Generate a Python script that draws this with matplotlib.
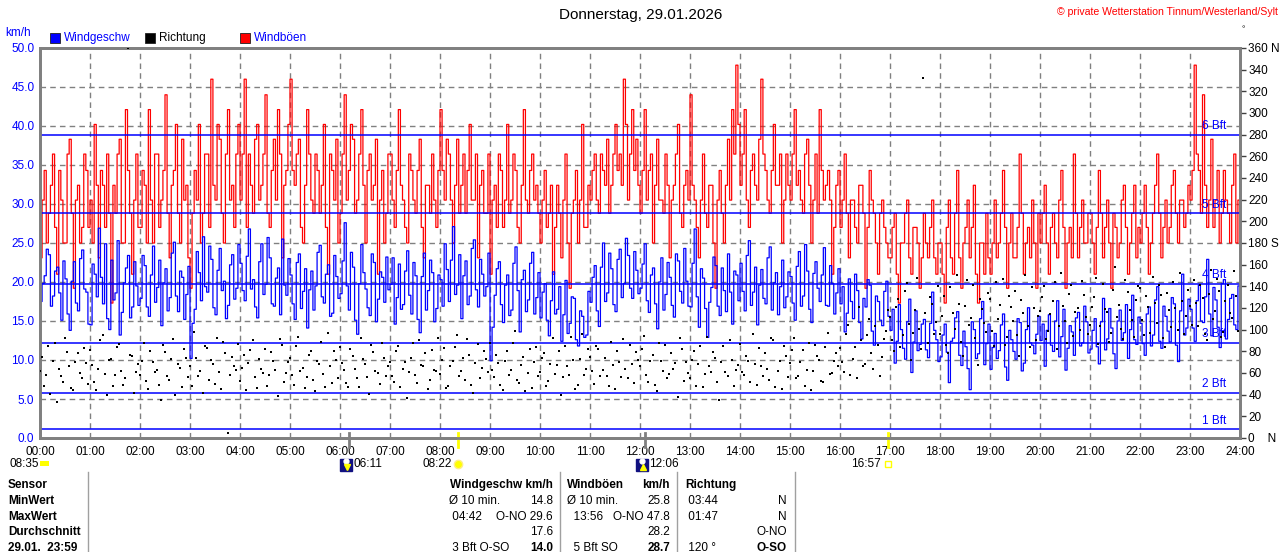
import matplotlib
matplotlib.use("Agg")

import numpy as np
import matplotlib.pyplot as plt
from matplotlib.patches import Rectangle

plt.rcParams['font.family'] = ['Liberation Sans', 'DejaVu Sans']

#--------------------------------
# DATA (readings every 5 min at :00 and at :02.5)
#--------------------------------
title = "Donnerstag, 29.01.2026"
credit = "© private Wetterstation Tinnum/Westerland/Sylt"
hour_labels = ["%02d:00" % h for h in range(25)]

speed_a = [  # km/h, 12 per hour
    17.5, 20.8, 23.5, 18.2, 21.9, 15.1, 20.4, 13.8, 22.6, 16.3, 24.1, 18.7,
    14.5, 21.0, 26.9, 17.2, 15.3, 22.8, 18.6, 13.2, 19.9, 23.4, 16.8, 19.5,
    17.9, 22.1, 15.6, 24.6, 19.3, 14.4, 21.7, 18.0, 25.1, 16.2, 20.6, 18.4,
    10.2, 16.5, 21.2, 25.8, 18.7, 22.9, 15.8, 24.3, 20.1, 17.0, 23.5, 19.2,
    22.4, 17.6, 26.8, 20.3, 15.4, 24.9, 19.7, 23.1, 16.9, 21.8, 25.5, 18.3,
    20.9, 15.2, 23.6, 18.8, 14.1, 21.4, 19.5, 24.7, 17.3, 22.2, 16.0, 20.7,
    18.5, 27.6, 16.4, 21.9, 13.3, 24.8, 19.1, 15.7, 22.5, 17.8, 20.6, 23.2,
    19.7, 14.6, 22.3, 17.1, 24.0, 15.9, 20.8, 13.5, 23.7, 18.9, 21.2, 16.6,
    20.3, 24.9, 17.5, 27.1, 19.6, 15.3, 22.7, 18.2, 25.4, 16.8, 21.0, 19.4,
    9.9, 18.3, 22.6, 14.8, 20.9, 16.4, 24.5, 13.6, 21.5, 17.7, 23.8, 18.0,
    15.4, 19.8, 13.1, 21.3, 16.5, 12.4, 20.2, 14.7, 17.9, 11.8, 15.6, 13.2,
    17.4, 22.1, 14.3, 25.0, 18.6, 21.7, 16.2, 24.2, 19.8, 23.4, 17.9, 21.5,
    19.2, 24.9, 16.1, 21.8, 14.0, 23.1, 18.4, 20.6, 15.5, 22.7, 17.3, 20.1,
    16.8, 26.8, 14.2, 20.5, 12.9, 19.3, 22.1, 15.7, 18.9, 23.6, 14.6, 20.9,
    22.4, 16.3, 25.3, 18.7, 14.5, 21.6, 17.2, 24.5, 19.9, 15.8, 22.8, 18.1,
    20.7, 15.1, 23.9, 18.2, 21.4, 14.8, 22.6, 17.5, 24.4, 16.9, 19.8, 18.6,
    17.2, 13.6, 20.4, 15.3, 18.9, 12.7, 16.8, 19.6, 11.9, 17.5, 14.4, 20.1,
    13.8, 9.6, 17.1, 11.5, 14.9, 8.4, 16.3, 12.0, 15.2, 10.3, 18.7, 12.6,
    10.4, 14.6, 7.1, 12.8, 16.2, 9.3, 11.7, 6.2, 13.9, 10.8, 17.5, 12.1,
    8.8, 13.4, 11.2, 15.9, 7.4, 12.6, 10.1, 14.8, 9.6, 16.7, 11.9, 13.3,
    12.5, 9.2, 15.8, 11.1, 17.6, 13.0, 8.7, 14.4, 10.6, 16.1, 12.2, 14.9,
    11.4, 15.3, 9.5, 17.9, 12.7, 14.1, 8.9, 16.4, 13.5, 10.2, 18.3, 12.0,
    14.7, 10.6, 16.8, 13.2, 19.4, 11.5, 15.6, 12.3, 17.2, 9.8, 21.0, 14.1,
    16.5, 12.4, 19.6, 14.8, 22.9, 13.1, 17.7, 11.6, 20.3, 15.2, 18.4, 13.9,
]
speed_b = [
    19.8, 24.2, 16.9, 21.4, 18.6, 22.7, 15.9, 20.1, 17.3, 23.0, 19.1, 14.6,
    22.3, 18.1, 20.6, 24.9, 13.9, 17.7, 25.3, 16.1, 21.8, 15.4, 22.6, 17.0,
    23.4, 16.8, 20.9, 17.4, 22.8, 19.9, 16.3, 23.7, 18.2, 21.4, 15.2, 22.0,
    14.7, 23.9, 17.6, 19.4, 24.6, 16.7, 21.5, 18.9, 15.3, 22.2, 17.8, 24.8,
    18.9, 23.3, 19.1, 16.8, 22.6, 18.4, 25.7, 17.2, 20.5, 15.8, 19.6, 23.0,
    17.2, 22.5, 16.6, 21.7, 19.0, 16.4, 23.8, 18.1, 21.0, 15.6, 23.4, 17.9,
    22.7, 19.5, 23.8, 15.1, 19.8, 21.2, 16.7, 23.6, 14.9, 21.3, 17.4, 19.0,
    23.1, 18.0, 16.5, 21.4, 18.3, 22.5, 15.2, 20.7, 16.4, 22.8, 14.9, 20.9,
    16.9, 21.6, 22.8, 18.4, 23.5, 20.8, 17.1, 24.3, 19.0, 22.9, 18.2, 23.7,
    14.2, 21.7, 17.1, 19.6, 15.7, 22.4, 18.9, 20.3, 16.2, 22.4, 15.9, 21.2,
    18.7, 15.1, 17.6, 15.9, 19.4, 15.8, 13.4, 18.1, 12.6, 16.3, 12.9, 18.8,
    20.6, 16.3, 21.9, 17.5, 23.7, 17.1, 22.9, 18.0, 25.6, 19.2, 23.9, 18.5,
    22.3, 17.6, 20.9, 17.2, 20.0, 16.4, 22.5, 17.0, 23.6, 18.8, 24.3, 16.9,
    22.4, 18.1, 21.7, 16.6, 17.4, 23.2, 16.9, 21.8, 16.2, 18.7, 21.4, 17.6,
    18.8, 23.4, 17.0, 21.9, 19.6, 17.9, 23.1, 16.4, 21.2, 19.4, 16.7, 21.3,
    17.3, 22.0, 16.9, 24.8, 16.5, 21.1, 19.2, 20.9, 17.0, 22.1, 15.9, 21.7,
    19.4, 16.0, 17.5, 21.0, 14.8, 17.9, 20.3, 13.7, 18.2, 15.1, 18.8, 15.6,
    16.5, 12.4, 13.9, 10.1, 17.8, 12.3, 11.2, 14.6, 11.3, 14.7, 13.8, 9.8,
    13.2, 11.0, 12.4, 15.4, 10.6, 13.7, 8.9, 14.9, 10.2, 15.3, 9.4, 14.6,
    11.6, 10.2, 14.5, 9.1, 13.8, 11.1, 15.3, 8.6, 13.9, 12.2, 10.8, 15.6,
    14.6, 13.8, 11.9, 15.0, 10.4, 16.5, 11.5, 13.6, 15.4, 11.8, 16.9, 10.9,
    13.8, 11.7, 14.9, 11.3, 16.6, 10.8, 15.0, 12.5, 17.1, 13.9, 12.6, 15.5,
    12.1, 15.9, 11.8, 17.7, 12.4, 16.9, 13.7, 18.0, 11.9, 16.3, 13.2, 17.8,
    14.1, 17.6, 15.0, 18.1, 15.9, 19.3, 14.2, 19.8, 12.7, 17.9, 14.5, 19.5,
]

gusts_a = [  # km/h
    23.1, 34.3, 28.8, 36.4, 21.0, 30.5, 25.0, 38.3, 19.2, 32.4, 27.0, 34.3,
    30.5, 40.2, 23.1, 32.4, 36.4, 17.3, 28.8, 38.3, 25.0, 34.3, 21.0, 36.4,
    27.0, 32.4, 42.1, 25.0, 36.4, 30.5, 44.0, 23.1, 34.3, 28.8, 38.3, 32.4,
    19.2, 34.3, 40.2, 28.8, 36.4, 46.0, 30.5, 38.3, 25.0, 42.1, 32.4, 36.4,
    30.5, 46.0, 36.4, 28.8, 40.2, 32.4, 44.0, 27.0, 38.3, 42.1, 23.1, 34.3,
    46.0, 32.4, 38.3, 25.0, 42.1, 30.5, 36.4, 28.8, 40.2, 21.0, 34.3, 38.3,
    28.8, 44.0, 34.3, 38.3, 30.5, 42.1, 25.0, 36.4, 32.4, 21.0, 34.3, 28.8,
    36.4, 27.0, 42.1, 30.5, 25.0, 34.3, 28.8, 38.3, 23.1, 32.4, 36.4, 27.0,
    42.1, 30.5, 36.4, 25.0, 38.3, 32.4, 28.8, 40.2, 30.5, 23.1, 34.3, 28.8,
    21.0, 32.4, 36.4, 27.0, 40.2, 30.5, 34.3, 25.0, 42.1, 28.8, 36.4, 32.4,
    25.0, 34.3, 28.8, 21.0, 32.4, 23.1, 36.4, 19.2, 30.5, 25.0, 40.2, 27.0,
    30.5, 36.4, 28.8, 34.3, 38.3, 32.4, 40.2, 36.4, 46.0, 30.5, 42.1, 38.3,
    28.8, 42.1, 34.3, 25.0, 38.3, 30.5, 36.4, 23.1, 32.4, 40.2, 27.0, 34.3,
    44.0, 30.5, 23.1, 36.4, 27.0, 32.4, 19.2, 34.3, 25.0, 38.3, 42.1, 47.8,
    32.4, 42.1, 27.0, 36.4, 30.5, 46.0, 34.3, 28.8, 40.2, 32.4, 25.0, 36.4,
    30.5, 42.1, 34.3, 28.8, 38.3, 25.0, 36.4, 42.1, 30.5, 34.3, 21.0, 32.4,
    27.0, 36.4, 23.1, 30.5, 25.0, 32.4, 19.2, 34.3, 28.8, 21.0, 30.5, 25.0,
    23.1, 28.8, 17.3, 25.0, 30.5, 21.0, 27.0, 19.2, 28.8, 23.1, 30.5, 21.0,
    25.0, 17.3, 30.5, 21.0, 34.3, 19.2, 27.0, 23.1, 32.4, 17.3, 25.0, 28.8,
    21.0, 30.5, 25.0, 34.3, 19.2, 28.8, 23.1, 36.4, 21.0, 27.0, 30.5, 19.2,
    25.0, 32.4, 21.0, 28.8, 23.1, 34.3, 19.2, 27.0, 36.4, 23.1, 30.5, 25.0,
    28.8, 21.0, 34.3, 23.1, 30.5, 19.2, 27.0, 25.0, 32.4, 21.0, 28.8, 23.1,
    25.0, 32.4, 21.0, 28.8, 36.4, 23.1, 30.5, 27.0, 34.3, 25.0, 30.5, 28.8,
    30.5, 47.8, 34.3, 44.0, 27.0, 38.3, 30.5, 25.0, 34.3, 28.8, 32.4, 25.0,
]
gusts_b = [
    30.5, 25.0, 32.4, 27.0, 34.3, 25.0, 36.4, 28.8, 30.5, 25.0, 36.4, 27.0,
    25.0, 32.4, 34.3, 27.0, 28.8, 32.4, 36.4, 25.0, 42.1, 28.8, 30.5, 27.0,
    34.3, 25.0, 30.5, 36.4, 27.0, 34.3, 28.8, 32.4, 40.2, 25.0, 30.5, 23.1,
    28.8, 30.5, 25.0, 36.4, 27.0, 32.4, 40.2, 28.8, 36.4, 30.5, 27.0, 40.2,
    36.4, 27.0, 32.4, 38.3, 30.5, 36.4, 28.8, 34.3, 30.5, 36.4, 32.4, 40.2,
    34.3, 36.4, 27.0, 32.4, 36.4, 28.8, 34.3, 32.4, 27.0, 36.4, 30.5, 25.0,
    36.4, 30.5, 40.2, 28.8, 36.4, 32.4, 34.3, 30.5, 38.3, 30.5, 25.0, 36.4,
    30.5, 34.3, 32.4, 27.0, 36.4, 30.5, 34.3, 27.0, 32.4, 28.8, 30.5, 34.3,
    34.3, 38.3, 30.5, 32.4, 28.8, 36.4, 34.3, 30.5, 36.4, 32.4, 28.8, 36.4,
    30.5, 27.0, 34.3, 30.5, 28.8, 36.4, 27.0, 32.4, 30.5, 34.3, 30.5, 28.8,
    30.5, 27.0, 32.4, 27.0, 28.8, 30.5, 25.0, 28.8, 34.3, 30.5, 27.0, 32.4,
    34.3, 30.5, 36.4, 32.4, 28.8, 36.4, 34.3, 32.4, 40.2, 36.4, 34.3, 32.4,
    34.3, 30.5, 36.4, 32.4, 30.5, 28.8, 32.4, 30.5, 36.4, 28.8, 32.4, 30.5,
    32.4, 27.0, 30.5, 28.8, 32.4, 25.0, 30.5, 28.8, 32.4, 30.5, 36.4, 40.2,
    36.4, 30.5, 34.3, 32.4, 38.3, 36.4, 30.5, 34.3, 32.4, 36.4, 30.5, 32.4,
    36.4, 32.4, 30.5, 36.4, 32.4, 30.5, 28.8, 34.3, 32.4, 30.5, 27.0, 34.3,
    30.5, 28.8, 30.5, 27.0, 32.4, 28.8, 27.0, 30.5, 25.0, 28.8, 27.0, 23.1,
    27.0, 21.0, 25.0, 28.8, 23.1, 27.0, 25.0, 23.1, 25.0, 27.0, 23.1, 25.0,
    21.0, 27.0, 23.1, 28.8, 23.1, 25.0, 30.5, 27.0, 21.0, 25.0, 21.0, 23.1,
    25.0, 23.1, 28.8, 27.0, 25.0, 23.1, 27.0, 28.8, 25.0, 23.1, 25.0, 28.8,
    28.8, 25.0, 27.0, 25.0, 30.5, 27.0, 25.0, 23.1, 28.8, 27.0, 25.0, 28.8,
    25.0, 27.0, 28.8, 27.0, 25.0, 28.8, 23.1, 30.5, 27.0, 25.0, 32.4, 27.0,
    28.8, 27.0, 25.0, 32.4, 28.8, 27.0, 25.0, 32.4, 28.8, 30.5, 27.0, 32.4,
    34.3, 36.4, 28.8, 32.4, 30.5, 27.0, 34.3, 28.8, 30.5, 25.0, 36.4, 30.5,
]

direction_a = [  # degrees
    62, 48, 85, 71, 33, 57, 92, 66, 44, 78, 55, 69,
    81, 52, 64, 95, 40, 73, 58, 87, 49, 360, 76, 61,
    58, 88, 45, 70, 63, 35, 79, 54, 91, 68, 47, 74,
    66, 98, 57, 42, 83, 72, 50, 61, 89, 5, 75, 63,
    53, 77, 69, 90, 46, 64, 82, 58, 71, 39, 86, 60,
    74, 49, 93, 65, 56, 80, 43, 68, 59, 97, 51, 72,
    84, 63, 47, 76, 55, 92, 68, 41, 79, 60, 88, 57,
    70, 52, 85, 64, 37, 74, 58, 90, 66, 45, 81, 62,
    59, 83, 48, 71, 95, 62, 54, 77, 42, 87, 65, 73,
    88, 56, 69, 44, 80, 63, 99, 51, 75, 60, 46, 84,
    61, 78, 53, 92, 67, 40, 85, 58, 72, 49, 96, 64,
    75, 50, 82, 63, 57, 89, 45, 70, 91, 55, 68, 79,
    66, 94, 52, 77, 43, 71, 86, 59, 64, 38, 82, 70,
    55, 80, 68, 47, 93, 61, 74, 35, 85, 57, 72, 63,
    87, 58, 71, 96, 49, 66, 78, 54, 90, 62, 45, 76,
    69, 92, 57, 81, 63, 44, 86, 72, 52, 97, 60, 78,
    83, 61, 104, 73, 55, 90, 68, 110, 64, 86, 75, 99,
    112, 80, 128, 95, 143, 72, 118, 101, 332, 88, 124, 107,
    96, 131, 78, 115, 150, 89, 122, 104, 141, 67, 119, 98,
    128, 85, 110, 147, 93, 121, 136, 76, 115, 103, 139, 90,
    117, 140, 99, 126, 82, 152, 108, 133, 94, 120, 145, 112,
    104, 130, 87, 142, 116, 97, 158, 123, 91, 135, 109, 127,
    138, 95, 121, 149, 106, 132, 84, 118, 144, 100, 126, 113,
    122, 146, 103, 129, 90, 155, 117, 136, 98, 141, 111, 131,
]
direction_b = [
    75, 58, 41, 88, 64, 52, 79, 46, 70, 60, 83, 50,
    67, 44, 90, 59, 72, 48, 84, 62, 55, 77, 42, 68,
    71, 53, 80, 61, 49, 86, 57, 73, 40, 65, 82, 56,
    48, 74, 62, 85, 54, 68, 92, 45, 78, 58, 66, 87,
    65, 44, 81, 56, 73, 60, 48, 79, 63, 91, 52, 70,
    58, 85, 62, 46, 77, 54, 71, 89, 47, 66, 80, 55,
    69, 51, 82, 64, 47, 73, 56, 86, 62, 50, 74, 66,
    57, 80, 47, 70, 61, 88, 51, 67, 78, 54, 63, 92,
    72, 46, 66, 84, 57, 74, 91, 49, 69, 55, 80, 61,
    63, 77, 49, 71, 58, 88, 54, 67, 43, 82, 70, 57,
    74, 48, 68, 59, 80, 56, 66, 93, 45, 73, 58, 82,
    62, 85, 57, 74, 48, 67, 80, 56, 64, 86, 51, 72,
    82, 58, 71, 49, 88, 62, 55, 78, 69, 92, 53, 60,
    72, 48, 85, 59, 66, 79, 52, 70, 61, 90, 48, 67,
    61, 76, 52, 68, 83, 57, 64, 92, 47, 71, 85, 56,
    81, 55, 70, 48, 88, 62, 76, 53, 84, 59, 71, 66,
    70, 96, 58, 84, 121, 66, 95, 78, 103, 57, 91, 118,
    90, 121, 84, 136, 105, 97, 148, 82, 115, 130, 96, 140,
    113, 86, 139, 101, 124, 76, 146, 111, 92, 128, 106, 134,
    99, 144, 123, 86, 131, 108, 95, 127, 150, 84, 120, 113,
    130, 91, 114, 144, 103, 122, 88, 141, 116, 100, 132, 96,
    121, 148, 103, 119, 89, 137, 112, 101, 146, 118, 93, 140,
    109, 131, 97, 125, 141, 92, 134, 102, 120, 152, 96, 137,
    104, 125, 141, 96, 133, 110, 147, 93, 126, 115, 154, 99,
]

bft_limits = [1.1, 5.8, 12.2, 19.8, 28.8, 38.9]
bft_labels = ["1 Bft", "2 Bft", "3 Bft", "4 Bft", "5 Bft", "6 Bft"]

# sun / moon events on the time axis
event_times = [6 + 11/60, 8 + 22/60, 12 + 6/60, 16 + 57/60]
event_labels = ["06:11", "08:22", "12:06", "16:57"]
event_kinds = ["moonset", "sunrise", "moonrise", "sunset"]
sunshine = "08:35"

# stats table
row_heads = ["Sensor", "MinWert", "MaxWert", "Durchschnitt", "29.01.  23:59"]
speed_left = ["", "Ø 10 min.", " 04:42", "", " 3 Bft O-SO"]
speed_right = ["Windgeschw km/h", "14.8", "O-NO 29.6", "17.6", "14.0"]
gust_left = ["Windböen", "Ø 10 min.", "  13:56", "", "  5 Bft SO"]
gust_right = ["km/h", "25.8", "O-NO 47.8", "28.2", "28.7"]
dir_left = ["Richtung", " 03:44", " 01:47", "", " 120 °"]
dir_right = ["", "N", "N", "O-NO", "O-SO"]

# merge the :00 and :02.5 readings into one series
speed = np.column_stack((speed_a, speed_b)).ravel()
gusts = np.column_stack((gusts_a, gusts_b)).ravel()
direction = np.column_stack((direction_a, direction_b)).ravel()

#--------------------------------
# FIGURE
#--------------------------------
W, H = 1280, 552
fig = plt.figure(figsize=(W/100, H/100), dpi=100)
fig.patch.set_facecolor('white')

L, R, T, B = 40, 1240, 48, 438
ax = fig.add_axes([L/W, 1 - B/H, (R-L)/W, (B-T)/H])
ax.set_xlim(0, 24)
ax.set_ylim(0, 50)

t = np.arange(len(speed)) * 2.5 / 60
t_full = np.append(t, 24)

grey = '#808080'
ax.grid(True, color=grey, linestyle=(0, (4, 3)), linewidth=1)
ax.set_axisbelow(True)

ax.step(t_full, np.append(gusts, gusts[-1]), where='post', color='#ff0000', lw=0.9, zorder=2)
ax.step(t_full, np.append(speed, speed[-1]), where='post', color='#0000ff', lw=0.9, zorder=3)

for lim, lab in zip(bft_limits, bft_labels):
    ax.axhline(lim, color='#0000ff', lw=1.1, zorder=4)
    ax.text(23.73, lim + 1.1, lab, color='#0000ff', fontsize=8.5,
            ha='right', va='center', zorder=5)

ax.set_xticks(range(25))
ax.set_xticklabels(hour_labels, fontsize=8.5)
ax.set_yticks(np.arange(0, 50.1, 5))
ax.set_yticklabels(["%.1f" % v for v in np.arange(0, 50.1, 5)], fontsize=8.5, color='#0000ff')
ax.tick_params(axis='x', length=0, pad=6)
ax.tick_params(axis='y', length=0, pad=4)
for s in ax.spines.values():
    s.set_color(grey)
    s.set_linewidth(2)

# direction on right axis
ax2 = ax.twinx()
ax2.set_ylim(0, 360)
ax2.plot(t, direction, 's', color='black', ms=1.7, mec='black', mew=0, zorder=6)
r_ticks = list(range(0, 361, 20))
r_labels = []
for v in r_ticks:
    if v == 360:
        r_labels.append("360 N")
    elif v == 180:
        r_labels.append("180 S")
    elif v == 0:
        r_labels.append("0    N")
    else:
        r_labels.append(str(v))
ax2.set_yticks(r_ticks)
ax2.set_yticklabels(r_labels, fontsize=8.5)
ax2.tick_params(axis='y', length=4, width=1, color='#404040', pad=2)
for s in ax2.spines.values():
    s.set_color(grey)
    s.set_linewidth(2)

# event markers on the time axis
xt = ax.get_xaxis_transform()
for et, lab, kind in zip(event_times, event_labels, event_kinds):
    c = '#ffff00' if kind.startswith('sun') else grey
    ax.plot([et, et], [-0.023, 0.013], color=c, lw=2, transform=xt, clip_on=False, zorder=7)
    if kind.startswith('moon'):
        ax.plot(et - 0.06, -0.068, 's', ms=8, color='#101080', transform=xt, clip_on=False)
        ax.plot(et - 0.06, -0.06, 'o', ms=3.5, color='white', transform=xt, clip_on=False)
        ax.plot(et - 0.04, -0.075, 'v' if kind == 'moonset' else '^', ms=4,
                color='#ffff00', transform=xt, clip_on=False)
        ax.text(et + 0.08, -0.067, lab, fontsize=8.5, ha='left', va='center',
                transform=xt, clip_on=False)
    elif kind == 'sunrise':
        ax.plot(et, -0.067, 'o', ms=6, color='#ffff00', mec='#ffee88', transform=xt, clip_on=False)
        ax.text(et - 0.12, -0.067, lab, fontsize=8.5, ha='right', va='center',
                transform=xt, clip_on=False)
    else:
        ax.plot(et, -0.067, 's', ms=4, mfc='none', mec='#ffff00', mew=1, transform=xt, clip_on=False)
        ax.text(et - 0.14, -0.067, lab, fontsize=8.5, ha='right', va='center',
                transform=xt, clip_on=False)

#--------------------------------
# OVERLAY: header, legend, table (pixel coords)
#--------------------------------
ov = fig.add_axes([0, 0, 1, 1], zorder=-1)
ov.set_xlim(0, W)
ov.set_ylim(H, 0)
ov.axis('off')

ov.text(641, 15, title, fontsize=11, ha='center', va='center')
ov.text(1278, 12, credit, fontsize=7.6, color='#ff0000', ha='right', va='center')
ov.text(1243, 30, "°", fontsize=6, ha='center', va='center')
ov.text(5, 33, "km/h", fontsize=8.5, color='#0000ff', va='center')

legend_items = [("Windgeschw", '#0000ff', '#0000ff', 50),
                ("Richtung", 'black', 'black', 145),
                ("Windböen", '#ff0000', '#0000ff', 240)]
for name, fc, tc, x0 in legend_items:
    ov.add_patch(Rectangle((x0, 33), 10, 10, facecolor=fc, edgecolor='#202020', lw=0.6))
    ov.text(x0 + 14, 38, name, fontsize=8.5, color=tc, va='center')

# sunshine duration at far left
ov.text(10, 464, sunshine, fontsize=8.5, va='center')
ov.add_patch(Rectangle((40, 461), 9, 5, facecolor='#ffff00', edgecolor='none'))

# table
for xl in [88, 560, 677, 795]:
    ov.plot([xl, xl], [472, 552], color='#a0a0a0', lw=1)

row_y = [485, 501, 517, 532, 548]
for i, y in enumerate(row_y):
    bold_val = 'bold' if i in (0, 4) else 'normal'
    ov.text(8, y, row_heads[i], fontsize=8.5, fontweight='bold', va='center')
    ov.text(449, y, speed_left[i], fontsize=8.5, va='center')
    ov.text(553, y, speed_right[i], fontsize=8.5, fontweight=bold_val, ha='right', va='center')
    ov.text(567, y, gust_left[i], fontsize=8.5, va='center',
            fontweight='bold' if i == 0 else 'normal')
    ov.text(670, y, gust_right[i], fontsize=8.5, fontweight=bold_val, ha='right', va='center')
    ov.text(685, y, dir_left[i], fontsize=8.5, va='center',
            fontweight='bold' if i == 0 else 'normal')
    ov.text(787, y, dir_right[i], fontsize=8.5, fontweight=bold_val, ha='right', va='center')

fig.savefig("out.png", dpi=100)
